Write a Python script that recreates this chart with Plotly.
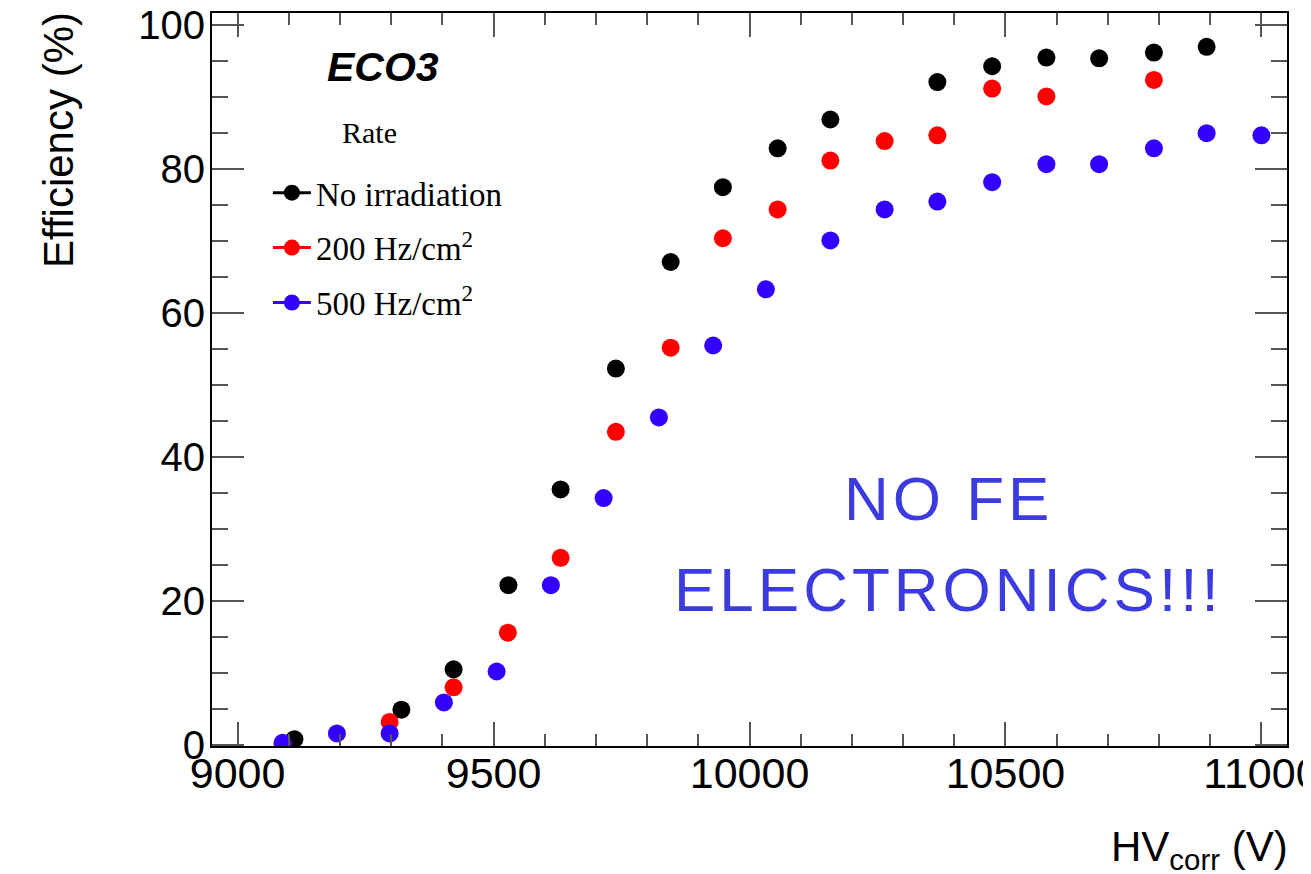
import plotly.graph_objects as go

# ---- data ----
hv_noirr = [9111, 9320, 9422, 9529, 9631, 9739, 9846, 9948, 10055, 10158, 10367, 10474, 10580, 10683, 10790, 10893]
eff_noirr = [0.8, 4.9, 10.5, 22.2, 35.5, 52.3, 67.1, 77.5, 82.9, 86.9, 92.1, 94.3, 95.5, 95.4, 96.2, 97.0]

hv_200 = [9088, 9297, 9422, 9528, 9631, 9739, 9846, 9948, 10055, 10158, 10264, 10367, 10474, 10580, 10790]
eff_200 = [0.2, 3.2, 8.0, 15.6, 26.0, 43.5, 55.2, 70.4, 74.4, 81.2, 83.9, 84.7, 91.2, 90.1, 92.4]

hv_500 = [9088, 9194, 9297, 9403, 9506, 9612, 9715, 9823, 9929, 10032, 10158, 10264, 10367, 10474, 10580, 10683, 10790, 10893, 11000]
eff_500 = [0.3, 1.6, 1.6, 5.9, 10.2, 22.2, 34.3, 45.5, 55.5, 63.3, 70.1, 74.4, 75.5, 78.2, 80.7, 80.7, 82.9, 85.0, 84.7]

series_names = ["No irradiation", "200 Hz/cm<sup>2</sup>", "500 Hz/cm<sup>2</sup>"]
series_colors = ["#000000", "#ff0000", "#3300ff"]
series_x = [hv_noirr, hv_200, hv_500]
series_y = [eff_noirr, eff_200, eff_500]

fig = go.Figure()

# data markers
for xs, ys, col in zip(series_x, series_y, series_colors):
    fig.add_trace(go.Scatter(x=xs, y=ys, mode="markers", showlegend=False,
                             marker=dict(color=col, size=18, line=dict(width=0))))

# legend entries (ROOT "LP" style: line + marker)
for i, (name, col) in enumerate(zip(series_names, series_colors)):
    fig.add_trace(go.Scatter(x=[None], y=[None], mode="lines+markers", name=name,
                             legendgroup="g%d" % i,
                             line=dict(color=col, width=3),
                             marker=dict(color=col, size=18)))

sans = "Liberation Sans, Arial, sans-serif"
serif = "Liberation Serif, Times New Roman, serif"
tickcol = "#555555"

fig.update_xaxes(range=[8950, 11050], showgrid=False, zeroline=False, automargin=False,
                 showline=True, linecolor="#000", linewidth=2, mirror="ticks",
                 ticks="inside", ticklen=24, tickwidth=2, tickcolor=tickcol,
                 dtick=500, tick0=9000, tickformat="d", ticklabeloverflow="allow",
                 ticklabelstandoff=-12,
                 tickfont=dict(family=sans, size=43, color="#000"),
                 minor=dict(ticks="inside", ticklen=12, tickwidth=2, tickcolor=tickcol, dtick=100, showgrid=False))
fig.update_yaxes(range=[-0.15, 101.7], showgrid=False, zeroline=False, automargin=False,
                 showline=True, linecolor="#000", linewidth=2, mirror="ticks",
                 ticks="inside", ticklen=32, tickwidth=2, tickcolor=tickcol,
                 dtick=20, tick0=0, ticklabeloverflow="allow", ticklabelstandoff=-3,
                 tickfont=dict(family=sans, size=40, color="#000"),
                 minor=dict(ticks="inside", ticklen=16, tickwidth=2, tickcolor=tickcol, dtick=5, showgrid=False))

# the page body adds an ~8px offset; size the figure so the frame lands where the reference has it
fig.update_layout(
    width=1303, height=866,
    margin=dict(l=204, r=24, t=5, b=128),
    paper_bgcolor="white", plot_bgcolor="white",
    legend=dict(x=0.052, y=0.793, xanchor="left", yanchor="top",
                bgcolor="rgba(0,0,0,0)", borderwidth=0,
                font=dict(family=serif, size=33, color="#000"),
                itemwidth=38, tracegroupgap=9),
)

# legend header
fig.add_annotation(text="Rate", xref="paper", yref="paper", x=(369 - 212) / 1075, y=(746 - 133) / 733,
                   xanchor="center", yanchor="middle", showarrow=False,
                   font=dict(family=serif, size=30, color="#000"))

# axis titles (ROOT style: aligned to end of axis)
fig.add_annotation(text="HV<sub>corr</sub> (V)", xref="paper", yref="paper", x=1, y=0,
                   xanchor="right", yanchor="middle", yshift=-103, xshift=3, showarrow=False,
                   font=dict(family=sans, size=42, color="#000"))
fig.add_annotation(text="Efficiency (%)", xref="paper", yref="paper", x=0, y=1,
                   xanchor="center", yanchor="top", xshift=-154, yshift=3, textangle=-90,
                   showarrow=False,
                   font=dict(family=sans, size=42, color="#000"))

# detector label
fig.add_annotation(text="<b><i>ECO3</i></b>", xref="paper", yref="paper", x=0.159, y=0.926,
                   xanchor="center", yanchor="middle", showarrow=False,
                   font=dict(family=sans, size=41, color="#000"))

# note
note_col = "#3b3be0"
for txt, yp in [("NO FE", 0.338), ("ELECTRONICS!!!", 0.213)]:
    fig.add_annotation(text='<span style="letter-spacing:4px">%s</span>' % txt,
                       xref="paper", yref="paper", x=0.6847, y=yp,
                       xanchor="center", yanchor="middle", showarrow=False,
                       font=dict(family=sans, size=62, color=note_col))

fig.write_html("out.html")
